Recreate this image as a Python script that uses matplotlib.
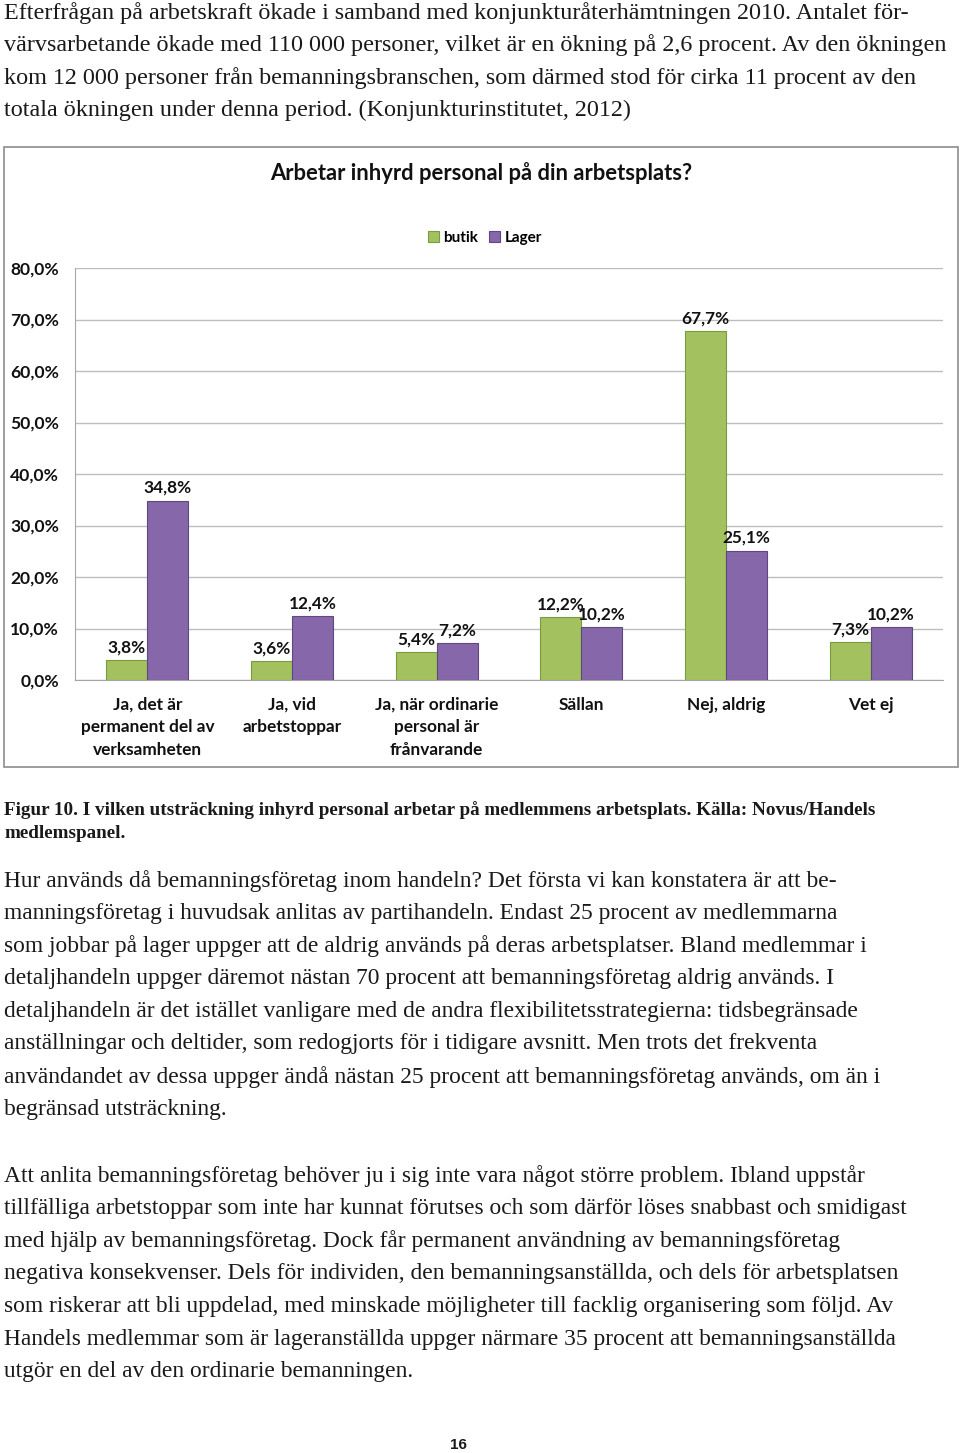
import numpy as np
import matplotlib
matplotlib.use("Agg")
import matplotlib.pyplot as plt
from matplotlib.patches import Rectangle

# --- data ---
categories = ["Ja, det är\npermanent del av\nverksamheten", "Ja, vid\narbetstoppar",
              "Ja, när ordinarie\npersonal är\nfrånvarande", "Sällan", "Nej, aldrig", "Vet ej"]
butik = [3.8, 3.6, 5.4, 12.2, 67.7, 7.3]
lager = [34.8, 12.4, 7.2, 10.2, 25.1, 10.2]
series_names = ["butik", "Lager"]
yticks = [0, 10, 20, 30, 40, 50, 60, 70, 80]

chart_title = "Arbetar inhyrd personal på din arbetsplats?"

para1 = [
    "Efterfrågan på arbetskraft ökade i samband med konjunkturåterhämtningen 2010. Antalet för-",
    "värvsarbetande ökade med 110 000 personer, vilket är en ökning på 2,6 procent. Av den ökningen",
    "kom 12 000 personer från bemanningsbranschen, som därmed stod för cirka 11 procent av den",
    "totala ökningen under denna period. (Konjunkturinstitutet, 2012)",
]
caption = [
    "Figur 10. I vilken utsträckning inhyrd personal arbetar på medlemmens arbetsplats. Källa: Novus/Handels",
    "medlemspanel.",
]
para2 = [
    "Hur används då bemanningsföretag inom handeln? Det första vi kan konstatera är att be-",
    "manningsföretag i huvudsak anlitas av partihandeln. Endast 25 procent av medlemmarna",
    "som jobbar på lager uppger att de aldrig används på deras arbetsplatser. Bland medlemmar i",
    "detaljhandeln uppger däremot nästan 70 procent att bemanningsföretag aldrig används. I",
    "detaljhandeln är det istället vanligare med de andra flexibilitetsstrategierna: tidsbegränsade",
    "anställningar och deltider, som redogjorts för i tidigare avsnitt. Men trots det frekventa",
    "användandet av dessa uppger ändå nästan 25 procent att bemanningsföretag används, om än i",
    "begränsad utsträckning.",
]
para3 = [
    "Att anlita bemanningsföretag behöver ju i sig inte vara något större problem. Ibland uppstår",
    "tillfälliga arbetstoppar som inte har kunnat förutses och som därför löses snabbast och smidigast",
    "med hjälp av bemanningsföretag. Dock får permanent användning av bemanningsföretag",
    "negativa konsekvenser. Dels för individen, den bemanningsanställda, och dels för arbetsplatsen",
    "som riskerar att bli uppdelad, med minskade möjligheter till facklig organisering som följd. Av",
    "Handels medlemmar som är lageranställda uppger närmare 35 procent att bemanningsanställda",
    "utgör en del av den ordinarie bemanningen.",
]
page_number = "16"

W, H = 960, 1453
fig = plt.figure(figsize=(W / 100, H / 100), dpi=100)
fig.patch.set_facecolor("white")

def fy(py):
    # pixel y from top -> figure fraction
    return 1 - py / H

def fx(px):
    return px / W

serif = "Liberation Serif"
sans = "Lato"
txtcol = "#1a1a1a"

def write_lines(lines, y0, step, size, weight="normal"):
    for i, line in enumerate(lines):
        fig.text(fx(4), fy(y0 + i * step), line, fontsize=size, family=serif,
                 weight=weight, color=txtcol, va="center", ha="left")

write_lines(para1, 13, 32.5, 17.4)
write_lines(caption, 810, 24, 13.8, weight="bold")
write_lines(para2, 881, 32.6, 16.9)
write_lines(para3, 1176, 32.6, 16.9)
fig.text(fx(458), fy(1445), page_number, fontsize=11, family="Liberation Sans",
         weight="bold", ha="center", va="center", color=txtcol)

# chart border
fig.patches.append(Rectangle((fx(4), fy(767)), fx(954), (767 - 147) / H,
                             transform=fig.transFigure, fill=False,
                             edgecolor="#8c8c8c", linewidth=1.2))

# --- chart ---
ax = fig.add_axes([fx(75), fy(680), fx(868), (680 - 268) / H])
x = np.arange(len(categories))
bw = 0.283
green = "#a3c25f"
purple = "#8667aa"
b1 = ax.bar(x - bw / 2, butik, bw, color=green, edgecolor="#7a9a3e", linewidth=0.8,
            label=series_names[0], zorder=3)
b2 = ax.bar(x + bw / 2, lager, bw, color=purple, edgecolor="#5f4880", linewidth=0.8,
            label=series_names[1], zorder=3)

for bars, vals in ((b1, butik), (b2, lager)):
    for rect, v in zip(bars, vals):
        ax.annotate(f"{v:.1f}%".replace(".", ","),
                    (rect.get_x() + rect.get_width() / 2, rect.get_height()),
                    xytext=(0, 3.5), textcoords="offset points", ha="center", va="bottom",
                    fontsize=12.4, family=sans, weight="bold", color="#111111")

ax.set_xlim(-0.5, len(categories) - 0.5)
ax.set_ylim(0, 80)
ax.set_yticks(yticks)
ax.set_yticklabels([f"{t:.1f}%".replace(".", ",") for t in yticks],
                   fontsize=12.6, family=sans, weight="bold")
ax.set_xticks(x)
ax.set_xticklabels(categories, fontsize=12.4, family=sans, weight="bold",
                   linespacing=1.52, va="top")
ax.tick_params(axis="both", length=0, colors="#111111")
ax.tick_params(axis="y", pad=11.5)
ax.tick_params(axis="x", pad=12)
ax.grid(axis="y", color="#bdbdbd", linewidth=1, zorder=0)
ax.set_axisbelow(True)
for s in ("top", "right"):
    ax.spines[s].set_visible(False)
for s in ("left", "bottom"):
    ax.spines[s].set_color("#a6a6a6")

fig.text(fx(481), fy(173), chart_title, fontsize=15.8, family=sans, weight="bold",
         ha="center", va="center", color="#111111")

leg = ax.legend(ncol=2, loc="center", bbox_to_anchor=(fx(485), fy(238)),
                bbox_transform=fig.transFigure, frameon=False,
                handlelength=0.7, handleheight=0.7, columnspacing=0.7,
                handletextpad=0.3, prop={"family": sans, "weight": "bold", "size": 11})

fig.savefig("out.png", dpi=100)
